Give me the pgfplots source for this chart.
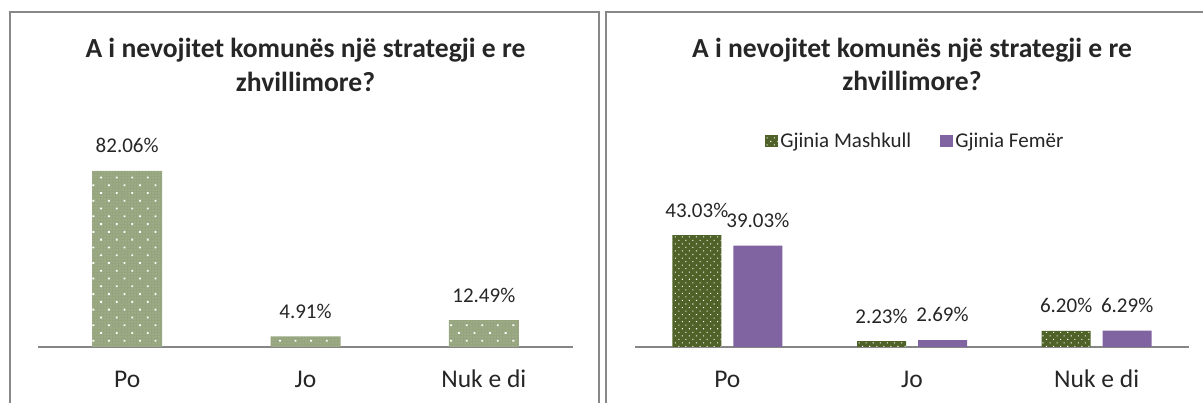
\documentclass[border=0pt]{standalone}
\usepackage{pgfplots}
\pgfplotsset{compat=1.18}
\usepackage{fontspec}
\setmainfont{Carlito}
\usetikzlibrary{patterns.meta}
\definecolor{lgreen}{RGB}{150,165,126}
\definecolor{dgreen}{RGB}{79,98,40}
\definecolor{purp}{RGB}{128,100,162}
\definecolor{axgray}{RGB}{134,134,134}
\definecolor{brd}{RGB}{136,136,136}
\definecolor{txt}{RGB}{38,38,38}
\pgfplotsset{
  /pgf/number format/assume math mode=true,
  mybase/.style={
    scale only axis,
    anchor=south west,
    ybar,
    ymin=0, ymax=100,
    xmin=-0.5, xmax=2.5,
    enlargelimits=false,
    clip=false,
    axis x line*=bottom,
    axis y line=none,
    axis line style={draw=axgray, line width=2pt},
    xtick={0,1,2},
    xticklabels={Po,Jo,Nuk e di},
    major tick length=0pt,
    xticklabel style={anchor=base, yshift=-41pt, font=\fontsize{25.5}{30}\selectfont, text=txt},
    nodes near coords={\pgfmathprintnumber[fixed,fixed zerofill,precision=2]{\pgfplotspointmeta}\%},
    every node near coord/.append style={anchor=base, yshift=18pt, font=\fontsize{21}{25}\selectfont, text=txt},
  }
}
\begin{document}
\begin{tikzpicture}[x=1pt,y=1pt]
\useasboundingbox (0,0) rectangle (1203,403);
% panel borders
\draw[brd, line width=2pt] (9.5,-5) -- (9.5,391) -- (599,391) -- (599,-5);
\draw[brd, line width=2pt] (605.5,-5) -- (605.5,391) -- (1210,391);
% titles
\begin{scope}[every node/.style={anchor=base, text=txt, font=\fontsize{27.6}{34}\bfseries\selectfont, inner sep=0pt}]
\node at (305.5,345) {A i nevojitet komunës një strategji e re};
\node at (305.5,311) {zhvillimore?};
\node at (912,345.5) {A i nevojitet komunës një strategji e re};
\node at (912,312) {zhvillimore?};
\end{scope}

\begin{axis}[mybase,
  at={(38pt,56pt)}, width=535pt, height=214.5pt,
  bar width=70pt]
\addplot[draw=none, fill=lgreen, postaction={pattern={Dots[distance=3pt, radius=0.45pt]}, pattern color=white!70!lgreen}, postaction={pattern={Dots[distance=11pt, angle=45, radius=1.3pt]}, pattern color=white}]
  coordinates {(0,82.06) (1,4.91) (2,12.49)};
\end{axis}

\begin{axis}[mybase,
  at={(635pt,56pt)}, width=554pt, height=260pt,
  bar width=49pt, ybar=12pt,
  legend columns=2,
  legend style={draw=none, at={(0.506,0.792)}, anchor=center,
    font=\fontsize{21}{25}\selectfont, text=txt,
    nodes={inner xsep=2.5pt},
    /tikz/every even column/.append style={column sep=26pt}},
  legend image code/.code={\path[#1] (0pt,-5.5pt) rectangle (13pt,6.5pt);}
  ]
\addplot[draw=none, fill=dgreen, postaction={pattern={Dots[distance=5pt, angle=45, radius=0.75pt]}, pattern color=white}]
  coordinates {(0,43.03) (1,2.23) (2,6.20)};
\addplot[draw=none, fill=purp]
  coordinates {(0,39.03) (1,2.69) (2,6.29)};
\legend{Gjinia Mashkull, Gjinia Femër}
\end{axis}
\end{tikzpicture}
\end{document}
